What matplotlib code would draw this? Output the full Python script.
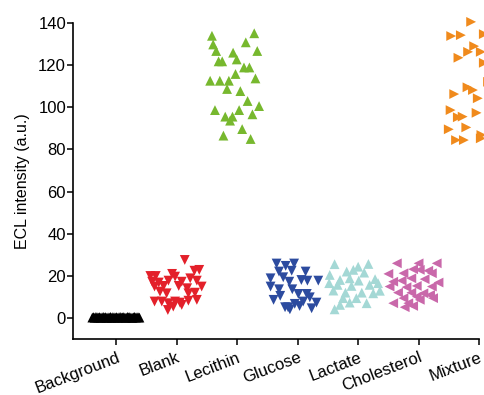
import matplotlib
matplotlib.use("Agg")
import matplotlib.pyplot as plt
import matplotlib.transforms as mtransforms
import numpy as np

plt.rcParams['font.family'] = ['Liberation Sans', 'DejaVu Sans']

categories = ["Background", "Blank", "Lecithin", "Glucose", "Lactate", "Cholesterol", "Mixture"]
colors = ["#000000", "#e3202a", "#77b82e", "#2c4b9f", "#a4d8d5", "#c968aa", "#f08a1c"]
markers = ["^", "v", "^", "v", "^", "<", ">"]

# jitter offsets (category units) and values per group
background_x = [-0.40, -0.38, -0.36, -0.34, -0.32, -0.30, -0.28, -0.26, -0.24, -0.22, -0.20, -0.18,
                -0.16, -0.14, -0.12, -0.10, -0.08, -0.06, -0.04, -0.02, 0.00, 0.02, 0.04, 0.06,
                0.08, 0.10, 0.12, 0.14, 0.16, 0.18, 0.20, 0.22, 0.24, 0.26, 0.28, 0.30, 0.32,
                0.34, 0.36, 0.38]
background_y = [0.3, 0.5, 0.2, 0.6, 0.4, 0.3, 0.5, 0.2, 0.4, 0.6, 0.3, 0.5, 0.2, 0.4,
                0.3, 0.6, 0.2, 0.5, 0.4, 0.3, 0.5, 0.2, 0.4, 0.6, 0.3, 0.4, 0.5, 0.3,
                0.2, 0.6, 0.4, 0.5, 0.3, 0.2, 0.4, 0.6, 0.3, 0.5, 0.4, 0.3]

blank_x = [0.13, -0.44, -0.35, -0.08, -0.03, 0.29, 0.37, -0.41, -0.30, -0.14, 0.08, 0.22, 0.33,
           -0.37, -0.22, 0.03, 0.17, 0.41, -0.28, -0.17, 0.19, 0.30, -0.37, -0.25, -0.14, -0.03,
           0.05, 0.19, 0.33, -0.15, -0.06, 0.08]
blank_y = [27.6, 20.0, 20.0, 21.0, 19.7, 22.5, 22.9, 17.3, 16.9, 17.8, 17.3, 18.9, 17.8,
           15.0, 15.3, 15.3, 14.2, 15.0, 12.6, 11.8, 11.8, 12.1, 7.9, 7.9, 7.1, 7.9,
           7.4, 8.3, 8.7, 3.9, 5.5, 6.3]

lecithin_x = [-0.42, 0.28, -0.40, 0.14, -0.35, 0.33, -0.07, -0.01, -0.31, -0.25, 0.11, 0.20,
              -0.03, 0.30, -0.45, -0.29, -0.14, -0.17, 0.05, 0.17, 0.36, -0.37, 0.03, -0.20,
              -0.08, 0.25, -0.12, 0.08, -0.23, 0.22]
lecithin_y = [133.8, 135.0, 129.7, 130.7, 126.6, 126.6, 125.8, 122.6, 121.7, 121.7, 118.8, 118.8,
              115.7, 113.6, 112.5, 112.5, 112.5, 108.6, 107.6, 102.9, 100.5, 98.6, 98.6, 95.5,
              95.5, 96.6, 93.6, 89.6, 86.5, 84.9]

glucose_x = [-0.35, -0.20, -0.06, -0.31, -0.10, 0.13, -0.24, -0.45, -0.14, 0.06, 0.16, 0.34,
             -0.45, -0.31, -0.09, -0.29, 0.01, 0.15, 0.20, -0.40, -0.05, 0.31, -0.21, -0.16,
             0.03, 0.23, 0.09, -0.13]
glucose_y = [25.9, 24.8, 25.9, 22.1, 22.5, 22.1, 19.4, 18.9, 17.3, 18.1, 17.8, 17.8,
             15.0, 13.7, 13.7, 10.6, 11.5, 11.5, 9.9, 8.7, 6.8, 7.4, 5.2, 5.2,
             5.8, 4.7, 7.9, 4.2]

lactate_x = [-0.39, 0.00, 0.17, -0.47, -0.19, -0.08, 0.10, -0.30, -0.14, 0.01, 0.28, -0.48,
             -0.34, -0.11, 0.19, 0.33, -0.41, -0.21, 0.06, 0.25, -0.25, -0.03, -0.30, -0.14,
             0.14, -0.39, 0.36]
lactate_y = [25.6, 24.4, 25.7, 20.5, 22.1, 22.9, 21.6, 18.1, 18.9, 17.8, 18.5, 16.6,
             15.8, 15.3, 15.8, 16.6, 13.1, 12.1, 12.1, 11.8, 9.5, 9.5, 6.3, 7.4,
             7.1, 4.2, 13.0]

cholesterol_x = [-0.36, 0.00, 0.30, -0.09, 0.02, -0.50, -0.25, 0.16, 0.22, -0.42, -0.28, -0.12,
                 0.10, 0.33, -0.48, -0.20, -0.03, 0.22, -0.34, -0.12, 0.08, -0.25, -0.03, 0.19,
                 -0.42, -0.17, 0.02, 0.24, -0.23, -0.09]
cholesterol_y = [26.0, 26.0, 26.0, 23.2, 22.9, 21.0, 21.3, 22.5, 21.3, 17.3, 17.8, 18.9,
                 18.5, 16.9, 15.0, 14.7, 15.3, 15.0, 12.1, 12.1, 11.8, 9.5, 10.2, 11.0,
                 7.1, 7.1, 8.7, 9.5, 5.2, 5.8]

mixture_x = [-0.13, -0.46, -0.30, 0.08, -0.34, -0.18, -0.08, 0.03, 0.08, -0.41, -0.19, -0.10,
             -0.02, -0.47, -0.35, -0.27, -0.04, -0.50, -0.21, 0.03, -0.38, -0.25, 0.04,
             0.20, 0.30, 0.25, 0.35, 0.15]
mixture_y = [140.4, 133.7, 134.1, 134.6, 123.4, 126.2, 128.9, 126.2, 121.0, 106.2, 109.4, 108.1,
             104.2, 98.6, 95.2, 95.5, 97.3, 89.5, 90.4, 85.2, 84.4, 84.4, 86.8,
             118.0, 100.0, 130.0, 92.0, 112.0]

groups_x = [background_x, blank_x, lecithin_x, glucose_x, lactate_x, cholesterol_x, mixture_x]
groups_y = [background_y, blank_y, lecithin_y, glucose_y, lactate_y, cholesterol_y, mixture_y]

fig = plt.figure(figsize=(4.85, 3.95), dpi=100)
ax = fig.add_axes([0.1505, 0.141, 0.8371, 0.8015])

for i, (gx, gy) in enumerate(zip(groups_x, groups_y)):
    ax.scatter(i + np.array(gx), gy, marker=markers[i], s=50, color=colors[i],
               edgecolors='none', clip_on=False, zorder=3)

ax.set_xlim(-0.72, 6)
ax.set_ylim(-10, 140)
ax.set_yticks(np.arange(0, 141, 20))
ax.set_xticks(range(len(categories)))
ax.set_xticklabels(categories, rotation=21, ha='right', rotation_mode='anchor', fontsize=12)
offset = mtransforms.ScaledTranslation(3 / 72, 0, fig.dpi_scale_trans)
for lab in ax.get_xticklabels():
    lab.set_transform(lab.get_transform() + offset)
ax.tick_params(axis='y', labelsize=12, length=4.5, width=1.1, direction='out', pad=0.5)
ax.tick_params(axis='x', length=4, width=1.1, direction='out', pad=3.5)
ax.spines['top'].set_visible(False)
ax.spines['right'].set_visible(False)
ax.spines['left'].set_linewidth(1.2)
ax.spines['bottom'].set_linewidth(1.2)
ax.set_ylabel("ECL intensity (a.u.)", fontsize=11.5, labelpad=6)

fig.savefig("out.png", dpi=100)
